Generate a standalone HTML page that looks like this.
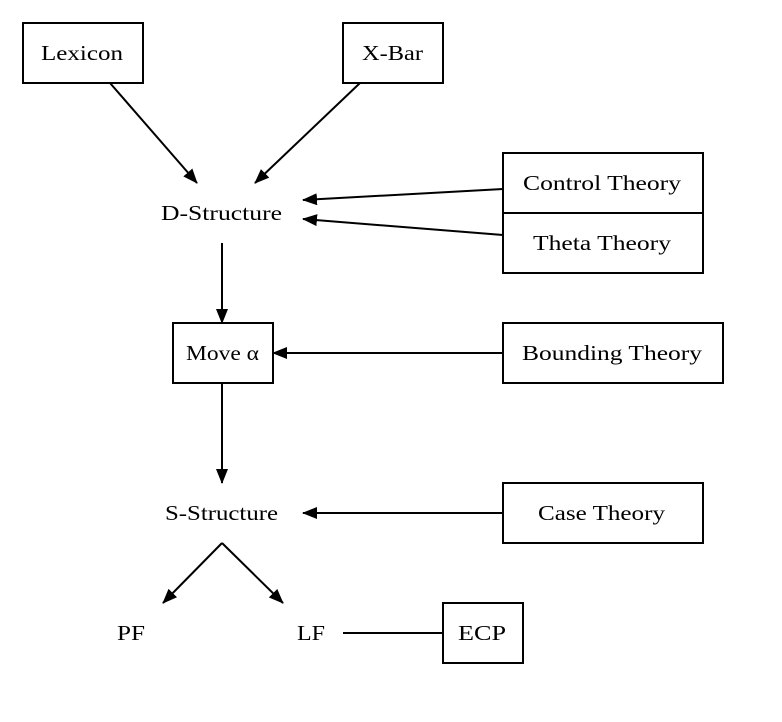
<!DOCTYPE html>
<html><head><meta charset="utf-8"><style>
html,body{margin:0;padding:0;background:#fff;}
svg{display:block;}
text{font-family:"Liberation Serif",serif;font-size:21px;fill:#000;}
</style></head><body>
<svg width="782" height="722" viewBox="0 0 782 722" xmlns="http://www.w3.org/2000/svg">
<defs><marker id="a" markerWidth="15" markerHeight="12" refX="14" refY="6" orient="auto" markerUnits="userSpaceOnUse"><path d="M0,0 L15,6 L0,12 z" fill="#000"/></marker></defs>
<g fill="none" stroke="#000" stroke-width="2">
<rect x="23" y="23" width="120" height="60"/>
<rect x="343" y="23" width="100" height="60"/>
<rect x="503" y="153" width="200" height="60"/>
<rect x="503" y="213" width="200" height="60"/>
<rect x="173" y="323" width="100" height="60"/>
<rect x="503" y="323" width="220" height="60"/>
<rect x="503" y="483" width="200" height="60"/>
<rect x="443" y="603" width="80" height="60"/>
<line x1="110" y1="83" x2="197" y2="183" marker-end="url(#a)"/>
<line x1="360" y1="83" x2="255" y2="183" marker-end="url(#a)"/>
<line x1="503" y1="189" x2="303" y2="200" marker-end="url(#a)"/>
<line x1="503" y1="235" x2="303" y2="219" marker-end="url(#a)"/>
<line x1="222" y1="243" x2="222" y2="323" marker-end="url(#a)"/>
<line x1="503" y1="353" x2="273" y2="353" marker-end="url(#a)"/>
<line x1="222" y1="383" x2="222" y2="483" marker-end="url(#a)"/>
<line x1="503" y1="513" x2="303" y2="513" marker-end="url(#a)"/>
<line x1="222" y1="543" x2="163" y2="603" marker-end="url(#a)"/>
<line x1="222" y1="543" x2="283" y2="603" marker-end="url(#a)"/>
<line x1="343" y1="633" x2="443" y2="633"/>
</g>
<g lengthAdjust="spacingAndGlyphs">
<text x="41" y="60" textLength="82" lengthAdjust="spacingAndGlyphs">Lexicon</text>
<text x="362" y="60" textLength="61" lengthAdjust="spacingAndGlyphs">X-Bar</text>
<text x="523" y="190" textLength="158" lengthAdjust="spacingAndGlyphs">Control Theory</text>
<text x="533" y="250" textLength="138" lengthAdjust="spacingAndGlyphs">Theta Theory</text>
<text x="161" y="220" textLength="121" lengthAdjust="spacingAndGlyphs">D-Structure</text>
<text x="186" y="360" textLength="73" lengthAdjust="spacingAndGlyphs">Move α</text>
<text x="522" y="360" textLength="180" lengthAdjust="spacingAndGlyphs">Bounding Theory</text>
<text x="165" y="520" textLength="113" lengthAdjust="spacingAndGlyphs">S-Structure</text>
<text x="538" y="520" textLength="127" lengthAdjust="spacingAndGlyphs">Case Theory</text>
<text x="117" y="640" textLength="28" lengthAdjust="spacingAndGlyphs">PF</text>
<text x="297" y="640" textLength="28" lengthAdjust="spacingAndGlyphs">LF</text>
<text x="458" y="640" textLength="48" lengthAdjust="spacingAndGlyphs">ECP</text>
</g>
</svg>
</body></html>
